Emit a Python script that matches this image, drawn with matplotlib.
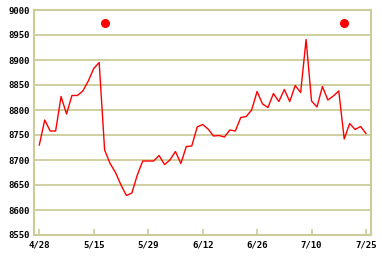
import matplotlib
matplotlib.use("Agg")
import matplotlib.pyplot as plt

# prices, one per trading day (4/28 .. 7/25)
prices = [8730, 8780, 8758, 8758, 8827, 8792, 8829, 8829, 8838, 8858,
          8883, 8895, 8720, 8693, 8675, 8650, 8629, 8634, 8670, 8698,
          8698, 8698, 8709, 8691, 8700, 8717, 8693, 8727, 8728, 8766,
          8771, 8762, 8748, 8749, 8746, 8760, 8758, 8785, 8787, 8800,
          8837, 8812, 8805, 8833, 8817, 8841, 8817, 8849, 8835, 8941,
          8818, 8806, 8847, 8820, 8828, 8838, 8742, 8773, 8761, 8767,
          8753]
tick_pos = [0, 10, 20, 30, 40, 50, 60]
tick_labels = ['4/28', '5/15', '5/29', '6/12', '6/26', '7/10', '7/25']
dot_pos = [12, 56]
dot_val = [8975, 8975]
y_ticks = [8550, 8600, 8650, 8700, 8750, 8800, 8850, 8900, 8950, 9000]

grid_c = '#cccc99'

fig = plt.figure(figsize=(3.82, 2.58), dpi=100)
ax = fig.add_axes([34/382, 23/258, 337/382, 225/258])

ax.set_ylim(8550, 9000)
ax.set_xlim(-0.97, 60.92)
ax.set_yticks(y_ticks)
ax.set_xticks(tick_pos)
ax.set_xticklabels(tick_labels)

for y in y_ticks:
    ax.axhline(y, color=grid_c, lw=1.3, zorder=1)

ax.plot(range(len(prices)), prices, color='#ff0000', lw=1.0, zorder=3)
ax.plot(dot_pos, dot_val, 'o', color='#ff0000', ms=5.5, zorder=4)

for s in ax.spines.values():
    s.set_color(grid_c)
    s.set_linewidth(1.5)

ax.tick_params(axis='y', length=0, pad=3)
ax.tick_params(axis='x', direction='in', length=4, width=1.2, color=grid_c, pad=4)
for lab in ax.get_xticklabels() + ax.get_yticklabels():
    lab.set_fontfamily('DejaVu Sans Mono')
    lab.set_fontsize(6.5)
    lab.set_fontweight('bold')

fig.savefig('out.png', dpi=100)
